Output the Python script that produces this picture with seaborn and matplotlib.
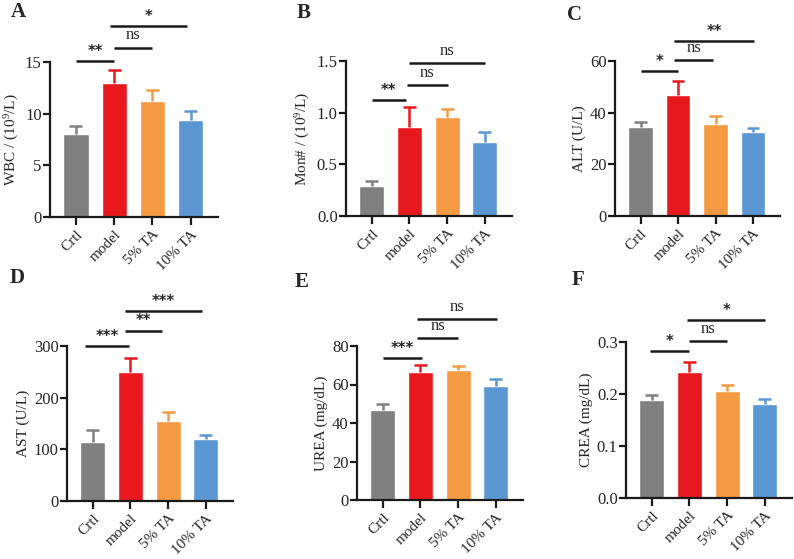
import numpy as np
import pandas as pd
import matplotlib
matplotlib.use("Agg")
import matplotlib.pyplot as plt
import seaborn as sns

# groups and colours
groups = ["Crtl", "model", "5% TA", "10% TA"]
palette = ["#808080", "#e8191e", "#f39a43", "#5b97d2"]

# means and upper error bar ends
wbc_mean = [8.0, 13.0, 11.2, 9.4]
wbc_top = [8.8, 14.2, 12.3, 10.3]
mon_mean = [0.29, 0.86, 0.96, 0.72]
mon_top = [0.34, 1.05, 1.04, 0.81]
alt_mean = [34.5, 47.0, 35.8, 32.7]
alt_top = [36.3, 52.3, 38.8, 33.9]
ast_mean = [115, 250, 155, 120]
ast_top = [138, 277, 172, 128]
urea_mean = [47.0, 66.5, 67.5, 59.0]
urea_top = [49.8, 70.2, 69.7, 62.8]
crea_mean = [0.189, 0.243, 0.205, 0.181]
crea_top = [0.199, 0.262, 0.218, 0.191]

# significance brackets: (from group, to group, height, label)
wbc_sig = [(0, 1, 15.1, "**"), (1, 2, 16.4, "ns"), (0.9, 2.9, 18.5, "*")]
mon_sig = [(0, 0.9, 1.12, "**"), (0.93, 2.03, 1.27, "ns"), (1.0, 3.0, 1.48, "ns")]
alt_sig = [(0, 1, 56.1, "*"), (0.9, 1.93, 60.3, "ns"), (0.9, 3.03, 67.7, "**")]
ast_sig = [(-0.2, 0.97, 300, "***"), (0.87, 1.83, 330, "**"), (0.87, 2.9, 368, "***")]
urea_sig = [(0, 1.03, 73.7, "***"), (0.91, 2.01, 83.9, "ns"), (0.91, 3.03, 94.1, "ns")]
crea_sig = [(-0.05, 0.98, 0.283, "*"), (0.98, 2.0, 0.302, "ns"), (0.95, 3.0, 0.342, "*")]

panels = [
    ("A", "WBC / (10$^{9}$/L)", wbc_mean, wbc_top, wbc_sig, [0, 5, 10, 15], "{:.0f}"),
    ("B", "Mon# / (10$^{9}$/L)", mon_mean, mon_top, mon_sig, [0, 0.5, 1.0, 1.5], "{:.1f}"),
    ("C", "ALT (U/L)", alt_mean, alt_top, alt_sig, [0, 20, 40, 60], "{:.0f}"),
    ("D", "AST (U/L)", ast_mean, ast_top, ast_sig, [0, 100, 200, 300], "{:.0f}"),
    ("E", "UREA (mg/dL)", urea_mean, urea_top, urea_sig, [0, 20, 40, 60, 80], "{:.0f}"),
    ("F", "CREA (mg/dL)", crea_mean, crea_top, crea_sig, [0, 0.1, 0.2, 0.3], "{:.1f}"),
]

sns.set_theme(style="ticks")
plt.rcParams["font.family"] = ["Liberation Serif", "DejaVu Serif"]
plt.rcParams["mathtext.fontset"] = "custom"
plt.rcParams["mathtext.rm"] = "Liberation Serif"
plt.rcParams["mathtext.it"] = "Liberation Serif:italic"

W, H = 794, 559
fig = plt.figure(figsize=(W / 100, H / 100), dpi=100)

# axes boxes in pixels: left, right, bottom(y of zero), top
boxes = [(50, 218, 217, 62), (346, 512, 216, 61), (615, 780, 216, 61),
         (67, 233, 501, 346), (357, 523, 500, 346), (626, 792, 498, 342)]
letter_pos = [(18, 12), (304, 13), (575, 15), (17, 278), (302, 282), (578, 280)]

for (letter, ylab, means, tops, sigs, yticks, fmt), (l, r, b, t), (lx, ly) in zip(panels, boxes, letter_pos):
    ax = fig.add_axes([l / W, 1 - b / H, (r - l) / W, (b - t) / H])
    df = pd.DataFrame({"group": groups, "value": means})
    sns.barplot(data=df, x="group", y="value", hue="group", palette=palette,
                order=groups, hue_order=groups, errorbar=None, width=0.66,
                legend=False, ax=ax, saturation=1)
    # upper-only error bars in the bar colour
    for i, (m, tp) in enumerate(zip(means, tops)):
        ax.vlines(i, m, tp, color=palette[i], lw=1.8)
        ax.hlines(tp, i - 0.17, i + 0.17, color=palette[i], lw=1.8)
    ax.set_xlim(-0.68, 3.72)
    ax.set_ylim(0, yticks[-1])
    ax.set_yticks(yticks)
    ax.set_yticklabels([fmt.format(v) for v in yticks])
    ax.set_xlabel("")
    ax.set_ylabel(ylab, fontsize=11, labelpad=3)
    sns.despine(ax=ax)
    for sp in ["left", "bottom"]:
        ax.spines[sp].set_linewidth(1.6)
        ax.spines[sp].set_color("#1a1a1a")
    ax.tick_params(axis="both", width=1.6, length=5, labelsize=12, color="#1a1a1a", pad=1)
    ax.tick_params(axis="x", length=6, pad=2, labelsize=11)
    plt.setp(ax.get_xticklabels(), rotation=45, ha="right", rotation_mode="anchor")

    for x0, x1, y, lab in sigs:
        ax.plot([x0, x1], [y, y], color="#1a1a1a", lw=1.8, clip_on=False, solid_capstyle="butt")
        if lab == "ns":
            ax.annotate(lab, ((x0 + x1) / 2, y), xytext=(0, 3), textcoords="offset points",
                        ha="center", va="bottom", fontsize=12, annotation_clip=False)
        else:
            ax.annotate(lab, ((x0 + x1) / 2, y), xytext=(0, 1.5), textcoords="offset points",
                        ha="center", va="bottom", fontsize=10.5, fontweight="bold",
                        family="DejaVu Sans", annotation_clip=False)

    fig.text(lx / W, 1 - ly / H, letter, fontsize=15, fontweight="bold",
             ha="center", va="center")

fig.savefig("out.png", dpi=100)
